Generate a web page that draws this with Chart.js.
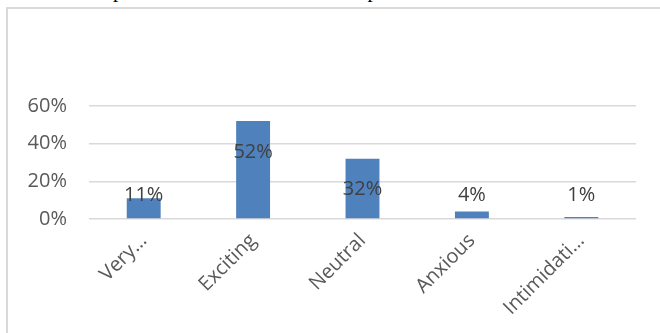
<!DOCTYPE html>
<html>
<head>
<meta charset="utf-8">
<script src="https://cdn.jsdelivr.net/npm/chart.js@4"></script>
<style>
  body { margin: 0; background: #fff; overflow: hidden; }
  #page { position: relative; width: 660px; height: 333px; overflow: hidden; }
  #caption {
    position: absolute; left: 47px; top: -22px;
    font: 21px "Liberation Serif", serif; color: #000; white-space: nowrap;
  }
  #frame {
    position: absolute; left: 6px; top: 7px; width: 700px; height: 400px;
    border: 2px solid #d9d9d9; box-sizing: border-box;
  }
  #chart { position: absolute; left: 0; top: 0; }
</style>
</head>
<body>
<div id="page">
  <div id="caption">ST: Respondents' initial reaction of experience</div>
  <div id="frame"></div>
  <canvas id="chart" width="660" height="333"></canvas>
</div>
<script>
  const categories = ["Very…", "Exciting", "Neutral", "Anxious", "Intimidati…"];
  const shares = [0.11, 0.52, 0.32, 0.04, 0.01];
  const shareLabels = ["11%", "52%", "32%", "4%", "1%"];
  const yTicks = [0, 0.2, 0.4, 0.6];

  // Excel-style labels: inside the top of the bar, but never lower than just above the axis
  const barLabels = {
    id: 'barLabels',
    afterDatasetsDraw(chart) {
      const ctx = chart.ctx;
      const yScale = chart.scales.y;
      const zeroY = yScale.getPixelForValue(0);
      const meta = chart.getDatasetMeta(0);
      ctx.save();
      ctx.font = '20px "Open Sans"';
      ctx.fillStyle = '#404040';
      ctx.textAlign = 'center';
      ctx.textBaseline = 'middle';
      meta.data.forEach((bar, i) => {
        const top = yScale.getPixelForValue(shares[i]);
        const y = Math.min(top + 31, zeroY - 24);
        ctx.fillText(shareLabels[i], bar.x, y);
      });
      ctx.restore();
    }
  };

  const myChart = new Chart(document.getElementById('chart'), {
    type: 'bar',
    data: {
      labels: categories,
      datasets: [
        {
          data: shares,
          backgroundColor: '#4f81bd',
          borderWidth: 0,
          barPercentage: 0.31,
          categoryPercentage: 1
        }
      ]
    },
    options: {
      responsive: false,
      animation: false,
      layout: {
        padding: { top: 106, right: 24, left: 0, bottom: 0 }
      },
      plugins: {
        legend: { display: false },
        tooltip: { enabled: false }
      },
      scales: {
        x: {
          grid: { display: false, drawTicks: false },
          border: { display: false },
          ticks: {
            color: '#595959',
            font: { family: 'Open Sans', size: 20 },
            minRotation: 45,
            maxRotation: 45,
            padding: 10,
            autoSkip: false
          },
          afterFit(scale) { scale.height = 114; }
        },
        y: {
          min: 0,
          max: 0.6,
          afterBuildTicks(scale) {
            scale.ticks = yTicks.map(v => ({ value: v }));
          },
          grid: { color: '#d9d9d9', lineWidth: 1.5, drawTicks: false },
          border: { display: false },
          ticks: {
            color: '#595959',
            font: { family: 'Open Sans', size: 20 },
            padding: 22,
            callback: v => Math.round(v * 100) + '%'
          },
          afterFit(scale) { scale.width = 89; }
        }
      }
    },
    plugins: [barLabels]
  });
</script>
</body>
</html>
